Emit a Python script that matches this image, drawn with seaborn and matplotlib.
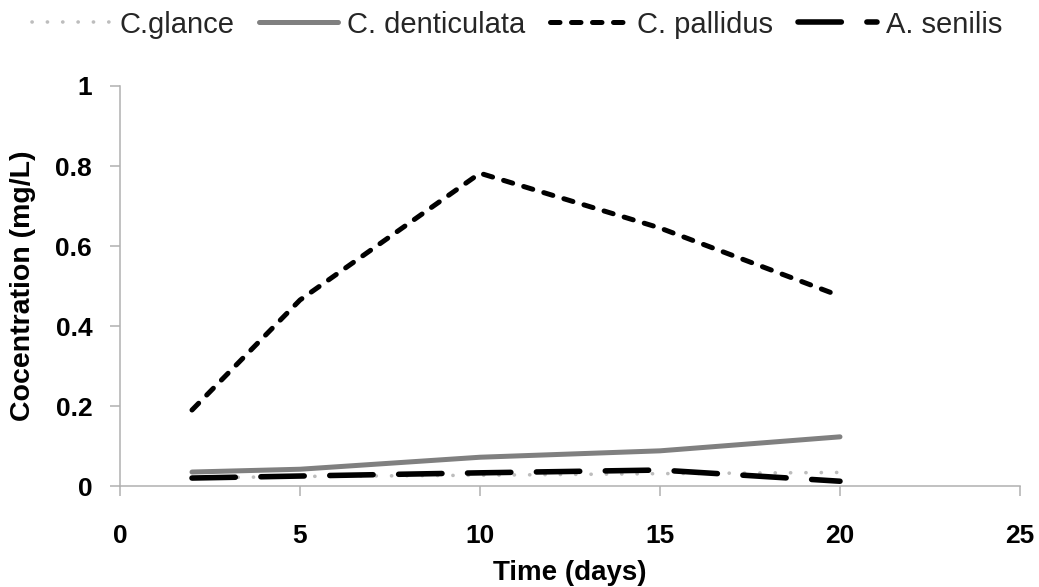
import matplotlib
matplotlib.use("Agg")
import matplotlib.pyplot as plt
import seaborn as sns
import pandas as pd
from matplotlib.lines import Line2D
from matplotlib.ticker import FuncFormatter

# ---- data ----
days = [2, 5, 10, 15, 20]
c_glance = [0.020, 0.024, 0.027, 0.031, 0.034]
c_denticulata = [0.035, 0.042, 0.072, 0.088, 0.123]
c_pallidus = [0.190, 0.465, 0.782, 0.645, 0.475]
a_senilis = [0.020, 0.025, 0.033, 0.040, 0.012]
series_names = ["C.glance", "C. denticulata", "C. pallidus", "A. senilis"]
x_ticks = [0, 5, 10, 15, 20, 25]
y_ticks = [0, 0.2, 0.4, 0.6, 0.8, 1.0]

sns.set_theme(style="white")
plt.rcParams["font.family"] = ["Liberation Sans", "DejaVu Sans"]

fig = plt.figure(figsize=(10.39, 5.87), dpi=100)
ax = fig.add_axes([0.1155, 0.172, 0.8662, 0.6815])

styles = {
    "C.glance": dict(color="#bdbdbd", lw=2.6, ls=(0, (0.05, 4.2))),
    "C. denticulata": dict(color="#808080", lw=3.6, ls="-"),
    "C. pallidus": dict(color="#000000", lw=3.6, ls=(0, (1.9, 2.3))),
    "A. senilis": dict(color="#000000", lw=4.0, ls=(0, (7.8, 4.6))),
}
values = [c_glance, c_denticulata, c_pallidus, a_senilis]

handles = []
for name, vals in zip(series_names, values):
    st = styles[name]
    df = pd.DataFrame({"day": days, "conc": vals})
    sns.lineplot(data=df, x="day", y="conc", ax=ax, color=st["color"],
                 linewidth=st["lw"], linestyle=st["ls"],
                 dash_capstyle="round", solid_capstyle="round",
                 solid_joinstyle="round", dash_joinstyle="round", sort=False)
    handles.append(Line2D([], [], color=st["color"], lw=st["lw"], ls=st["ls"],
                          dash_capstyle="round", solid_capstyle="round"))

ax.set_xlim(0, 25)
ax.set_ylim(0, 1)
ax.set_xticks(x_ticks)
ax.set_yticks(y_ticks)
ax.yaxis.set_major_formatter(FuncFormatter(lambda v, p: f"{v:g}"))
ax.xaxis.set_major_formatter(FuncFormatter(lambda v, p: f"{v:g}"))

for s in ["top", "right"]:
    ax.spines[s].set_visible(False)
for s in ["left", "bottom"]:
    ax.spines[s].set_color("#b0b0b0")
    ax.spines[s].set_linewidth(1.1)

ax.tick_params(axis="x", direction="out", length=7, width=1.1, color="#b0b0b0",
               bottom=True, pad=20, labelsize=19)
ax.tick_params(axis="y", direction="out", length=7, width=1.1, color="#b0b0b0",
               left=True, pad=13, labelsize=19)
for lab in ax.get_xticklabels() + ax.get_yticklabels():
    lab.set_fontweight("bold")
    lab.set_color("black")

ax.set_xlabel("Time (days)", fontsize=20, fontweight="bold", color="black")
ax.set_ylabel("Cocentration (mg/L)", fontsize=20.5, fontweight="bold", color="black")
ax.xaxis.set_label_coords(0.5, -0.185)
ax.yaxis.set_label_coords(-0.093, 0.5)

fig.legend(handles, series_names, loc="center", bbox_to_anchor=(0.4975, 0.958),
           ncol=4, frameon=False, fontsize=21, handlelength=2.7,
           handletextpad=0.3, columnspacing=0.85)

fig.savefig("out.png", dpi=100, facecolor="white")
